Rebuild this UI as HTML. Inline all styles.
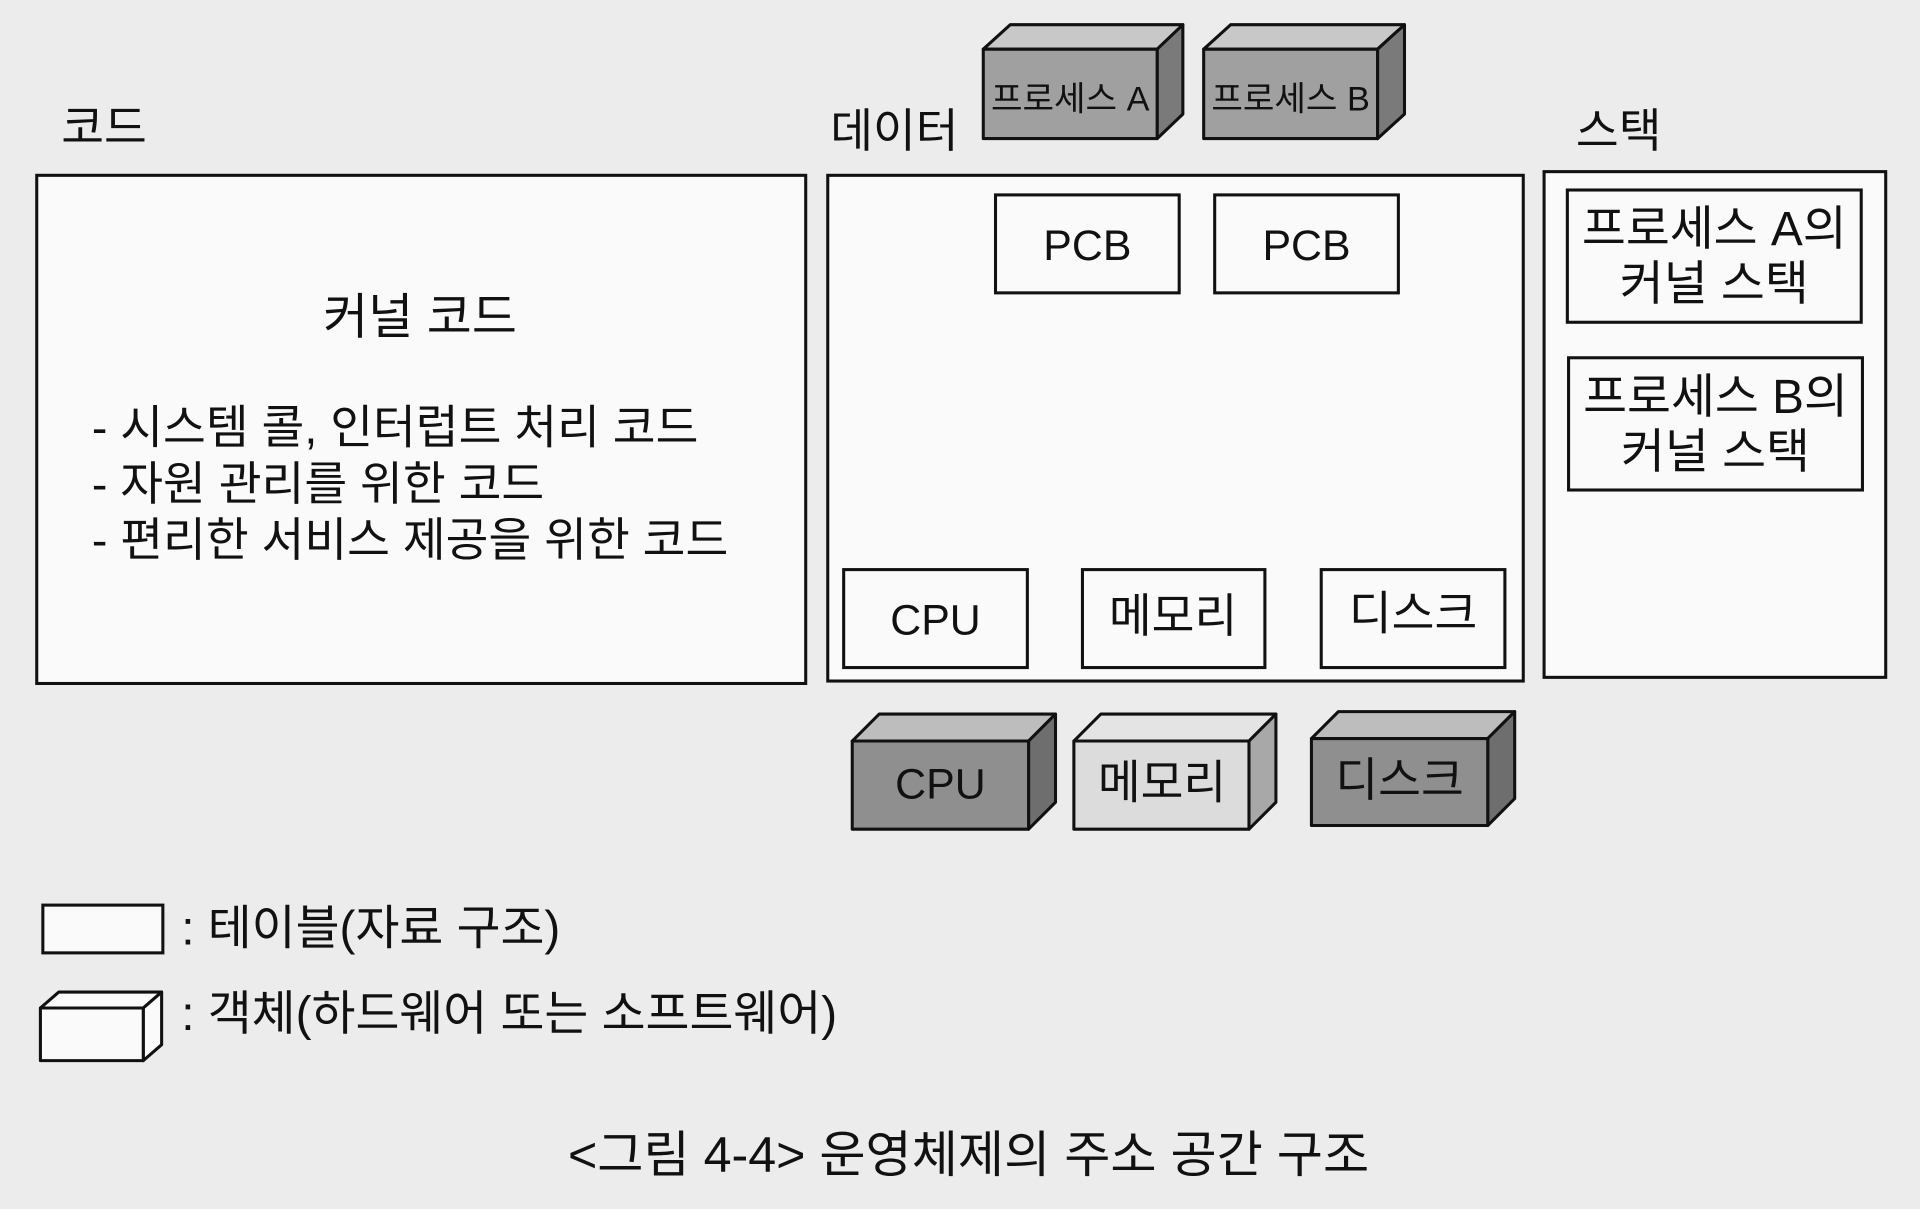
<!DOCTYPE html>
<html><head><meta charset="utf-8"><style>
html,body{margin:0;padding:0;background:#ececec;}
svg{display:block}
text{font-family:"Liberation Sans","Noto Sans CJK KR",sans-serif;fill:#111}
</style></head><body>
<svg width="1920" height="1209" viewBox="0 0 1568 987" xmlns="http://www.w3.org/2000/svg">
<rect width="1568" height="987" fill="#ececec"/>
<g stroke="#111" stroke-width="2.5" fill="#fafafa">
<rect x="30" y="143" width="628" height="415"/>
<rect x="676" y="143" width="568" height="413"/>
<rect x="1261" y="140" width="279" height="413"/>
<rect x="813" y="159" width="150" height="80"/>
<rect x="992" y="159" width="150" height="80"/>
<rect x="689" y="465" width="150" height="80"/>
<rect x="884" y="465" width="149" height="80"/>
<rect x="1079" y="465" width="150" height="80"/>
<rect x="1280" y="155" width="240" height="108"/>
<rect x="1281" y="292" width="240" height="108"/>
<rect x="35" y="739" width="98" height="39"/>
</g>
<g stroke="#111" stroke-width="2.5" stroke-linejoin="round">
<polygon points="803,40 825,20 966,20 945,40" fill="#c8c8c8"/>
<polygon points="945,40 966,20 966,93 945,113" fill="#7a7a7a"/>
<rect x="803" y="40" width="142" height="73" fill="#a0a0a0"/>
<polygon points="983,40 1005,20 1147,20 1125,40" fill="#c8c8c8"/>
<polygon points="1125,40 1147,20 1147,93 1125,113" fill="#7a7a7a"/>
<rect x="983" y="40" width="142" height="73" fill="#a0a0a0"/>
<polygon points="696,605 718,583 862,583 840,605" fill="#bdbdbd"/>
<polygon points="840,605 862,583 862,655 840,677" fill="#6e6e6e"/>
<rect x="696" y="605" width="144" height="72" fill="#8f8f8f"/>
<polygon points="877,605 899,583 1042,583 1020,605" fill="#e4e4e4"/>
<polygon points="1020,605 1042,583 1042,655 1020,677" fill="#a8a8a8"/>
<rect x="877" y="605" width="143" height="72" fill="#dcdcdc"/>
<polygon points="1071,603 1093,581 1237,581 1215,603" fill="#bdbdbd"/>
<polygon points="1215,603 1237,581 1237,652 1215,674" fill="#6e6e6e"/>
<rect x="1071" y="603" width="144" height="71" fill="#8f8f8f"/>
<polygon points="33,823 48,810 132,810 117,823" fill="#fafafa"/>
<polygon points="117,823 132,810 132,853 117,866" fill="#fafafa"/>
<rect x="33" y="823" width="84" height="43" fill="#fafafa"/>
</g>
<g font-size="38">
<text x="50" y="117">코드</text>
<text x="678" y="120">데이터</text>
<text x="1287" y="120">스택</text>
<text x="343" y="272" text-anchor="middle" font-size="40">커널 코드</text>
<text x="75" y="362">- 시스템 콜, 인터럽트 처리 코드</text>
<text x="75" y="408">- 자원 관리를 위한 코드</text>
<text x="75" y="454">- 편리한 서비스 제공을 위한 코드</text>
<text x="958" y="516" text-anchor="middle">메모리</text>
<text x="1154" y="514" text-anchor="middle">디스크</text>
<text x="949" y="652" text-anchor="middle">메모리</text>
<text x="1143" y="650" text-anchor="middle">디스크</text>
</g>
<g font-size="39">
<text x="1400" y="200" text-anchor="middle">프로세스 A의</text>
<text x="1400" y="245" text-anchor="middle">커널 스택</text>
<text x="1401" y="337" text-anchor="middle">프로세스 B의</text>
<text x="1401" y="382" text-anchor="middle">커널 스택</text>
<text x="148" y="771">: 테이블(자료 구조)</text>
<text x="148" y="841">: 객체(하드웨어 또는 소프트웨어)</text>
</g>
<g font-size="35">
<text x="888" y="212" text-anchor="middle">PCB</text>
<text x="1067" y="212" text-anchor="middle">PCB</text>
<text x="764" y="518" text-anchor="middle">CPU</text>
<text x="768" y="652" text-anchor="middle">CPU</text>
</g>
<text x="791" y="957" text-anchor="middle" font-size="41">&lt;그림 4-4&gt; 운영체제의 주소 공간 구조</text>
<g font-size="28">
<text x="874" y="90" text-anchor="middle">프로세스 A</text>
<text x="1054" y="90" text-anchor="middle">프로세스 B</text>
</g>
</svg>
</body></html>
